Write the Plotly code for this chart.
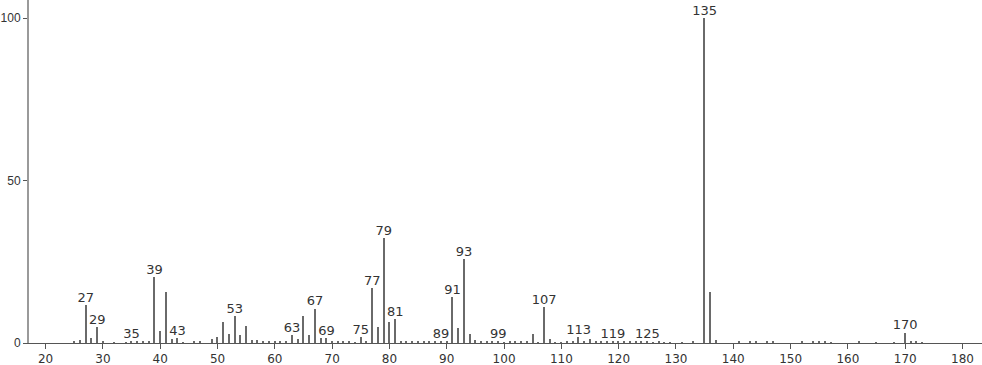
import plotly.graph_objects as go

mz = [25, 26, 27, 28, 29, 30, 32, 34, 35, 36, 37, 38, 39, 40, 41, 42, 43, 44,
      46, 47, 49, 50, 51, 52, 53, 54, 55, 56, 57, 58, 59, 60, 61, 62, 63, 64,
      65, 66, 67, 68, 69, 70, 71, 72, 73, 74, 75, 76, 77, 78, 79, 80, 81, 82,
      83, 84, 85, 86, 87, 88, 89, 90, 91, 92, 93, 94, 95, 96, 97, 98, 99, 100,
      101, 102, 103, 104, 105, 106, 107, 108, 109, 110, 111, 112, 113, 114, 115,
      116, 117, 118, 119, 120, 121, 122, 123, 124, 125, 126, 127, 128, 129, 131,
      133, 135, 136, 137, 141, 143, 144, 146, 147, 152, 154, 155, 156, 157, 162,
      165, 168, 170, 171, 172, 173]
intensity = [0.6, 0.9, 11.7, 1.4, 4.8, 0.5, 0.3, 0.3, 0.6, 0.6, 0.7, 0.5, 20.3, 3.6, 15.6, 1.2, 1.5, 0.3,
             0.5, 0.5, 1.1, 1.7, 6.5, 2.9, 8.2, 2.5, 5.2, 1.0, 1.0, 0.6, 0.5, 0.5, 0.4, 0.5, 2.5, 1.2,
             8.4, 2.6, 10.6, 1.4, 1.6, 0.5, 0.4, 0.4, 0.4, 0.3, 1.7, 0.4, 17.0, 5.0, 32.3, 6.4, 7.3, 0.5,
             0.5, 0.4, 0.5, 0.4, 0.5, 0.4, 0.6, 0.4, 14.2, 4.5, 25.8, 2.9, 0.9, 0.5, 0.5, 0.4, 0.5, 0.3,
             0.4, 0.4, 0.4, 0.5, 2.9, 0.3, 11.0, 1.2, 0.3, 0.3, 0.4, 0.4, 1.8, 0.4, 1.1,
             0.4, 0.4, 0.4, 0.5, 0.4, 0.4, 0.4, 0.4, 0.4, 0.5, 0.3, 0.4, 0.3, 0.3, 0.3,
             0.4, 100.0, 15.6, 0.8, 0.4, 0.4, 0.4, 0.4, 0.4, 0.4, 0.4, 0.4, 0.4, 0.3, 0.4,
             0.3, 0.3, 3.2, 0.6, 0.6, 0.3]

labels = [27, 29, 35, 39, 43, 53, 63, 67, 69, 75, 77, 79, 81, 89, 91, 93, 99,
          107, 113, 119, 125, 135, 170]

x_ticks = list(range(20, 181, 10))
y_ticks = [0, 50, 100]

lookup = dict(zip(mz, intensity))
label_y = [lookup[m] for m in labels]

fig = go.Figure()
fig.add_trace(go.Bar(
    x=mz, y=intensity, width=0.24,
    marker=dict(color="#6a6a6a", line=dict(width=0)),
    hoverinfo="x+y",
))
fig.add_trace(go.Scatter(
    x=labels, y=label_y, mode="text",
    text=[str(m) for m in labels], textposition="top center",
    textfont=dict(family="DejaVu Sans", size=13, color="#333333"),
    cliponaxis=False, hoverinfo="skip",
))

fig.update_layout(
    width=982, height=365,
    margin=dict(l=29, r=0, t=0, b=22),
    paper_bgcolor="white", plot_bgcolor="white",
    showlegend=False, bargap=0,
    font=dict(family="DejaVu Sans", size=12, color="#333333"),
)
fig.update_xaxes(
    range=[17.1, 183.4], tickvals=x_ticks, ticks="outside", ticklen=5,
    tickcolor="#555555", showline=True, linecolor="#555555", linewidth=1,
    showgrid=False, zeroline=False, tickfont=dict(size=12), automargin=False,
    ticklabelstandoff=0,
)
fig.update_yaxes(
    range=[0, 105.6], tickvals=y_ticks, ticks="outside", ticklen=4,
    tickcolor="#555555", showline=True, linecolor="#9a9a9a", linewidth=2,
    showgrid=False, zeroline=False, automargin=False,
    tickfont=dict(family="Liberation Sans", size=12), ticklabelstandoff=0,
)

fig.write_html("out.html")
